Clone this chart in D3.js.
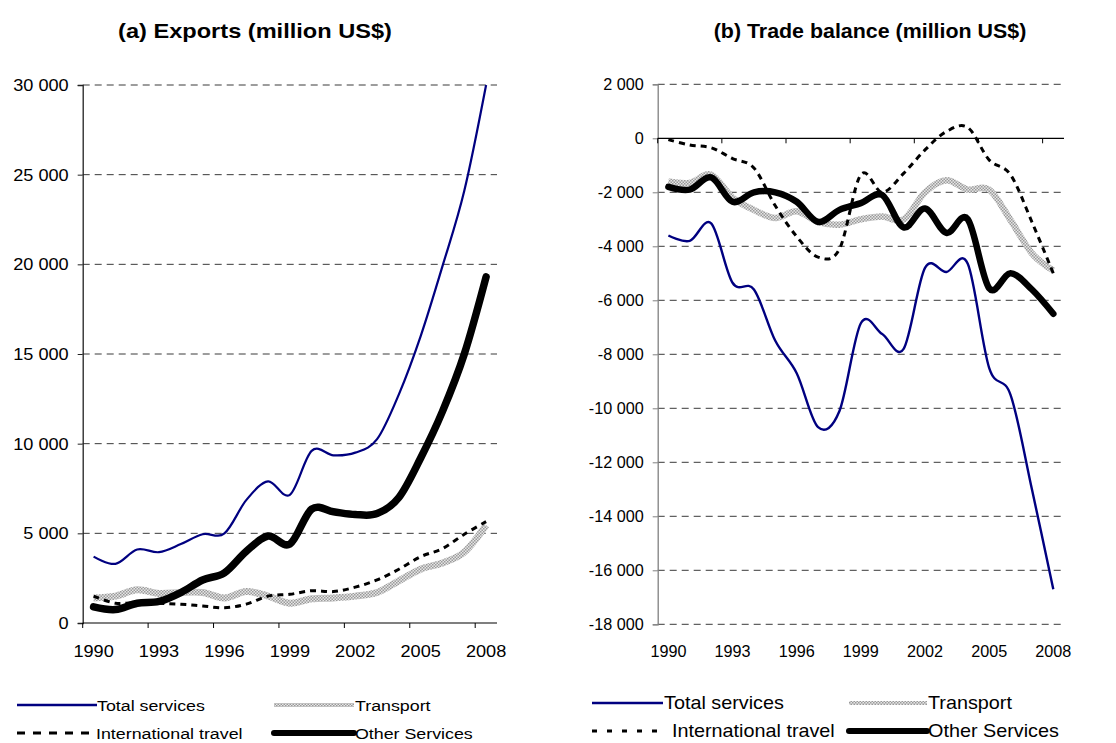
<!DOCTYPE html>
<html>
<head>
<meta charset="utf-8">
<script src="https://cdn.jsdelivr.net/npm/d3@7"></script>
<style>
  html, body { margin: 0; padding: 0; background: #fff; }
  svg { display: block; font-family: "Liberation Sans", Arial, sans-serif; }
</style>
</head>
<body>
<svg id="chart" width="1116" height="743"></svg>
<script>
// Years on the category axis
const years = [1990, 1991, 1992, 1993, 1994, 1995, 1996, 1997, 1998, 1999,
               2000, 2001, 2002, 2003, 2004, 2005, 2006, 2007, 2008];
const yearLabels = [1990, 1993, 1996, 1999, 2002, 2005, 2008];

// (a) Exports, million US$
const exportsTotal     = [3700, 3300, 4100, 3950, 4400, 4950, 5000, 6850, 7900, 7150,
                          9600, 9350, 9500, 10250, 12750, 16000, 19900, 24100, 30000];
const exportsTransport = [1400, 1500, 1850, 1650, 1700, 1700, 1400, 1750, 1500, 1100,
                          1350, 1400, 1500, 1700, 2350, 3000, 3350, 3950, 5450];
const exportsTravel    = [1500, 1100, 1150, 1100, 1050, 950, 850, 1050, 1500, 1600,
                          1800, 1750, 2000, 2400, 3000, 3700, 4150, 4950, 5650];
const exportsOther     = [900, 750, 1100, 1200, 1700, 2400, 2800, 4000, 4850, 4400,
                          6350, 6200, 6050, 6100, 7000, 9200, 11800, 15000, 19300];
const exportsTicks     = [0, 5000, 10000, 15000, 20000, 25000, 30000];

// (b) Trade balance, million US$
const balanceTotal     = [-3600, -3800, -3150, -5350, -5600, -7500, -8700, -10700, -10100, -6850,
                          -7250, -7800, -4800, -4950, -4650, -8500, -9500, -13000, -16700];
const balanceTransport = [-1600, -1650, -1350, -2200, -2650, -2950, -2700, -3100, -3200, -3000,
                          -2900, -3000, -2000, -1550, -1900, -1900, -3030, -4260, -4900];
const balanceTravel    = [-50, -250, -350, -750, -1100, -2500, -3640, -4400, -4100, -1350,
                          -2000, -1300, -430, 250, 400, -800, -1350, -3100, -5000];
const balanceOther     = [-1800, -1900, -1450, -2350, -2000, -2000, -2350, -3100, -2650, -2400,
                          -2100, -3300, -2600, -3500, -3000, -5550, -5000, -5600, -6500];
const balanceTicks     = [2000, 0, -2000, -4000, -6000, -8000, -10000, -12000, -14000, -16000, -18000];

const seriesNames = ["Total services", "Transport", "International travel", "Other Services"];

const fmt = d3.formatLocale({ decimal: ",", thousands: " ", grouping: [3], currency: ["", ""], minus: "-" }).format(",d");

const svg = d3.select("#chart");

// Hatched grey stroke used for the transport series
const defs = svg.append("defs");
const pat = defs.append("pattern")
  .attr("id", "hatch").attr("patternUnits", "userSpaceOnUse")
  .attr("width", 3).attr("height", 3);
pat.append("rect").attr("width", 3).attr("height", 3).attr("fill", "#e6e6e6");
pat.append("rect").attr("width", 1.5).attr("height", 1.5).attr("fill", "#9a9a9a");
pat.append("rect").attr("x", 1.5).attr("y", 1.5).attr("width", 1.5).attr("height", 1.5).attr("fill", "#9a9a9a");

// Text with a horizontal stretch factor
function label(g, x, y, str, size, sx, anchor, bold) {
  return g.append("text")
    .attr("transform", `translate(${x},${y}) scale(${sx},1)`)
    .attr("text-anchor", anchor || "start")
    .attr("font-size", size)
    .attr("font-weight", bold ? "bold" : null)
    .attr("fill", "#000")
    .text(str);
}

function drawPanel(cfg) {
  const g = svg.append("g");
  const x = d3.scaleBand().domain(years).range([cfg.x0, cfg.x1]).padding(0);
  const y = d3.scaleLinear().domain(cfg.domain).range([cfg.yBottom, cfg.yTop]);
  const cx = d => x(d) + x.bandwidth() / 2;

  // Title
  label(g, cfg.titleX, 38, cfg.title, cfg.titleSize, cfg.titleSx, "middle", true);

  // Dashed horizontal gridlines
  g.selectAll(".grid").data(cfg.ticks.filter(t => t !== cfg.baseValue)).join("line")
    .attr("x1", cfg.x0).attr("x2", cfg.x1)
    .attr("y1", d => y(d)).attr("y2", d => y(d))
    .attr("stroke", "#3a3a3a").attr("stroke-width", 1).attr("stroke-dasharray", "7,5");

  // Value axis: line and tick marks from d3, labels stretched separately
  const yAxis = d3.axisLeft(y).tickValues(cfg.ticks).tickFormat("").tickSize(5);
  const ya = g.append("g").attr("transform", `translate(${cfg.x0},0)`).call(yAxis);
  ya.select(".domain").attr("stroke", cfg.axisColor).attr("stroke-width", 1.3);
  ya.selectAll(".tick line").attr("stroke", cfg.axisColor);
  cfg.ticks.forEach(t => {
    label(g, cfg.x0 - cfg.labelGap, y(t) + cfg.tickSize * 0.36, fmt(t), cfg.tickSize, cfg.tickSx, "end");
  });

  // Category axis line with tick marks between categories, every third year
  const base = y(cfg.baseValue);
  g.append("line").attr("x1", cfg.x0).attr("x2", cfg.x1).attr("y1", base).attr("y2", base)
    .attr("stroke", "#000").attr("stroke-width", 1.2);
  const bounds = d3.range(0, years.length, 3).map(i => x(years[i]));
  g.selectAll(".xtick").data(bounds).join("line")
    .attr("x1", d => d).attr("x2", d => d).attr("y1", base).attr("y2", base + 5)
    .attr("stroke", "#000").attr("stroke-width", 1);
  yearLabels.forEach(yr => {
    label(g, cx(yr), 657, String(yr), cfg.tickSize, cfg.tickSx, "middle");
  });

  // Series lines
  const line = vals => d3.line().x((d, i) => cx(years[i])).y(d => y(d))
    .curve(d3.curveCardinal.tension(0))(vals);
  const styles = cfg.styles;
  cfg.series.forEach((vals, k) => {
    g.append("path").attr("d", line(vals)).attr("fill", "none")
      .attr("stroke", styles[k].stroke).attr("stroke-width", styles[k].width)
      .attr("stroke-dasharray", styles[k].dash || null)
      .attr("stroke-linecap", styles[k].cap || "butt")
      .attr("stroke-linejoin", "round");
  });

  // Legend
  const L = cfg.legend;
  seriesNames.forEach((name, k) => {
    const row = Math.floor(k / 2);
    const s = L.samples[k];
    const ly = L.rows[row];
    g.append("line").attr("x1", s[0]).attr("x2", s[1]).attr("y1", ly).attr("y2", ly)
      .attr("stroke", styles[k].stroke).attr("stroke-width", L.widths[k])
      .attr("stroke-dasharray", k === 2 ? L.dash : null)
      .attr("stroke-linecap", k === 3 ? "round" : "butt");
    label(g, L.textX[k], ly + L.size * 0.36, name, L.size, L.sx, "start");
  });
}

const sharedStyles = (w) => [
  { stroke: "#000080", width: w.total },
  { stroke: "url(#hatch)", width: w.transport },
  { stroke: "#000", width: w.travel, dash: "6,5" },
  { stroke: "#000", width: w.other, cap: "round" }
];

drawPanel({
  title: "(a) Exports (million US$)", titleX: 255, titleSize: 20, titleSx: 1.18,
  x0: 82.7, x1: 497, yTop: 85, yBottom: 623, domain: [0, 30000],
  ticks: exportsTicks, baseValue: 0, axisColor: "#222",
  tickSize: 16.5, tickSx: 1.1, labelGap: 14,
  series: [exportsTotal, exportsTransport, exportsTravel, exportsOther],
  styles: sharedStyles({ total: 2.2, transport: 7, travel: 3, other: 7.5 }),
  legend: {
    rows: [705, 733], size: 15.5, sx: 1.15, dash: "8,8",
    samples: [[17, 97], [274, 354], [17, 90], [274, 354]],
    widths: [2.5, 4, 3, 6],
    textX: [97, 355, 96, 355]
  }
});

drawPanel({
  title: "(b) Trade balance (million US$)", titleX: 870, titleSize: 20, titleSx: 1.07,
  x0: 657.7, x1: 1064, yTop: 84.3, yBottom: 624.3, domain: [-18000, 2000],
  ticks: balanceTicks, baseValue: 0, axisColor: "#808080",
  tickSize: 16.2, tickSx: 1.0, labelGap: 14,
  series: [balanceTotal, balanceTransport, balanceTravel, balanceOther],
  styles: sharedStyles({ total: 2.4, transport: 6.5, travel: 3, other: 6.5 }),
  legend: {
    rows: [703, 731], size: 18, sx: 1.1, dash: "5,10",
    samples: [[592, 663], [849, 927], [592, 660], [849, 927]],
    widths: [2.5, 4, 3, 6],
    textX: [664, 928, 672, 928]
  }
});
</script>
</body>
</html>
